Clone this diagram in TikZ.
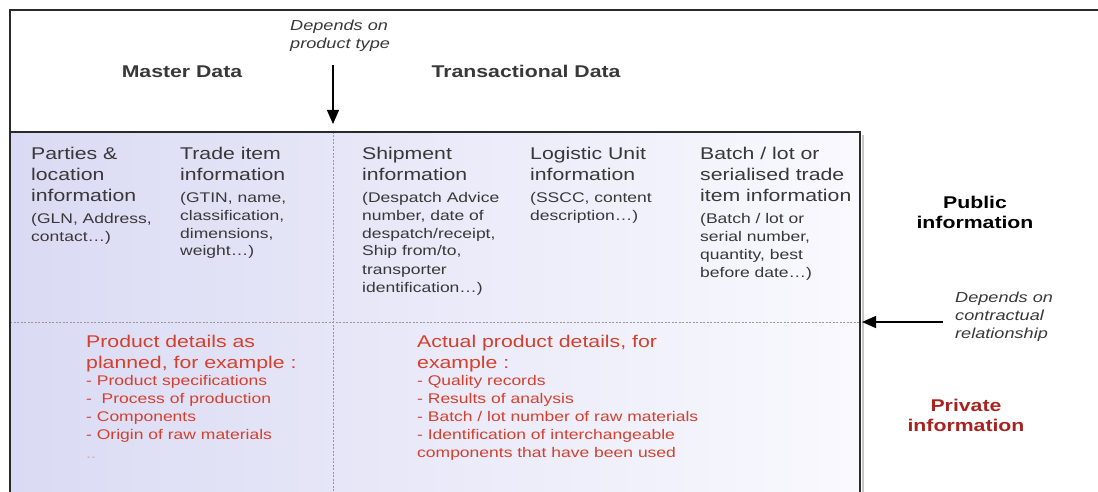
\documentclass[tikz,border=0pt]{standalone}
\usepackage{fontspec}
\setmainfont[FakeStretch=1.25]{Liberation Sans}
\usetikzlibrary{arrows.meta}
\definecolor{lavL}{HTML}{DADAF4}
\definecolor{lavM}{HTML}{E8E8F8}
\definecolor{lavR}{HTML}{F9F9FE}
\definecolor{txt}{HTML}{383838}
\definecolor{redt}{HTML}{D4402E}
\definecolor{redd}{HTML}{A8231E}
\definecolor{redl}{HTML}{E8A8A0}
\definecolor{framec}{HTML}{2A2A2A}
\newcommand\mybig{\fontsize{17}{21}\selectfont}
\newcommand\mysmall{\fontsize{14}{18}\selectfont}
\newcommand\myhead{\bfseries\fontsize{17}{20}\selectfont}
\newcommand\myital{\itshape\fontsize{14.5}{18}\selectfont}
\newcommand\mylines[1]{\begin{tabular}[t]{@{}l@{}}#1\end{tabular}}
\newcommand\mylinesc[1]{\begin{tabular}[t]{@{}c@{}}#1\end{tabular}}
\begin{document}
\begin{tikzpicture}[x=1pt,y=-1pt,
  lbl/.style={inner sep=0pt, anchor=base west, text=txt},
  clbl/.style={inner sep=0pt, anchor=base, text=txt},
  sep/.style={draw=gray!80, line width=0.6pt, dash pattern=on 2pt off 1.5pt},
  arr/.style={-{Triangle[length=14pt,width=12pt]}, line width=1.3pt, draw=black}]
\useasboundingbox (0,0) rectangle (1098,492);
\clip (0,0) rectangle (1098,492);
% shaded panel
\shade[left color=lavL, middle color=lavM, right color=lavR] (10,132) rectangle (860,500);
% dashed separators
\draw[sep] (333,132) -- (333,500);
\draw[sep] (10,322) -- (860,322);
% frames
\draw[framec, line width=2pt] (1100,10) -- (10,10) -- (10,500);
\draw[gray!45, line width=1.5pt] (863,135) -- (863,500);
\draw[framec, line width=2.2pt] (10,132) rectangle (860,500);
% headings
\node[clbl, font=\myhead] (master) at (182,78) {Master Data};
\node[clbl, font=\myhead] (trans) at (526,78) {Transactional Data};
\node[lbl, font=\myital] (dep1) at (290,31) {\mylines{Depends on\\product type}};
\node[lbl, font=\myital] (dep2) at (955,302) {\mylines{Depends on\\contractual\\relationship}};
\node[clbl, font=\myhead, text=black] (pub) at (975,208) {\mylinesc{Public\\information}};
\node[clbl, font=\myhead, text=redd] (priv) at (966,411) {\mylinesc{Private\\information}};
% arrows
\coordinate (a1s) at (333,65);
\coordinate (a1e) at (333,124);
\coordinate (a2s) at (943,322);
\coordinate (a2e) at (862,322);
\draw[arr] (a1s) -- (a1e);
\draw[arr] (a2s) -- (a2e);
% public columns
\node[lbl, font=\mybig] (parties) at (31,160) {\mylines{Parties \&\\location\\information}};
\node[lbl, font=\mysmall] (partiesd) at (31,223) {\mylines{(GLN, Address,\\contact…)}};
\node[lbl, font=\mybig] (trade) at (180,160) {\mylines{Trade item\\information}};
\node[lbl, font=\mysmall] (traded) at (180,202) {\mylines{(GTIN, name,\\classification,\\dimensions,\\weight…)}};
\node[lbl, font=\mybig] (ship) at (362,160) {\mylines{Shipment\\information}};
\node[lbl, font=\mysmall] (shipd) at (362,202) {\mylines{(Despatch Advice\\number, date of\\despatch/receipt,\\Ship from/to,\\transporter\\identification…)}};
\node[lbl, font=\mybig] (logi) at (530,160) {\mylines{Logistic Unit\\information}};
\node[lbl, font=\mysmall] (logid) at (530,202) {\mylines{(SSCC, content\\description…)}};
\node[lbl, font=\mybig] (batch) at (700,160) {\mylines{Batch / lot or\\serialised trade\\item information}};
\node[lbl, font=\mysmall] (batchd) at (700,223) {\mylines{(Batch / lot or\\serial number,\\quantity, best\\before date…)}};
% private columns
\node[lbl, font=\mybig, text=redt] (plan) at (86,347) {\mylines{Product details as\\planned, for example :}};
\node[lbl, font=\mysmall, text=redt] (pland) at (86,385) {\mylines{- Product specifications\\- \ Process of production\\- Components\\- Origin of raw materials}};
\node[lbl, font=\mysmall, text=redl] (dots) at (86,458) {..};
\node[lbl, font=\mybig, text=redt] (act) at (417,347) {\mylines{Actual product details, for\\example :}};
\node[lbl, font=\mysmall, text=redt] (actd) at (417,385) {\mylines{- Quality records\\- Results of analysis\\- Batch / lot number of raw materials\\- Identification of interchangeable\\components that have been used}};
\end{tikzpicture}
\end{document}
